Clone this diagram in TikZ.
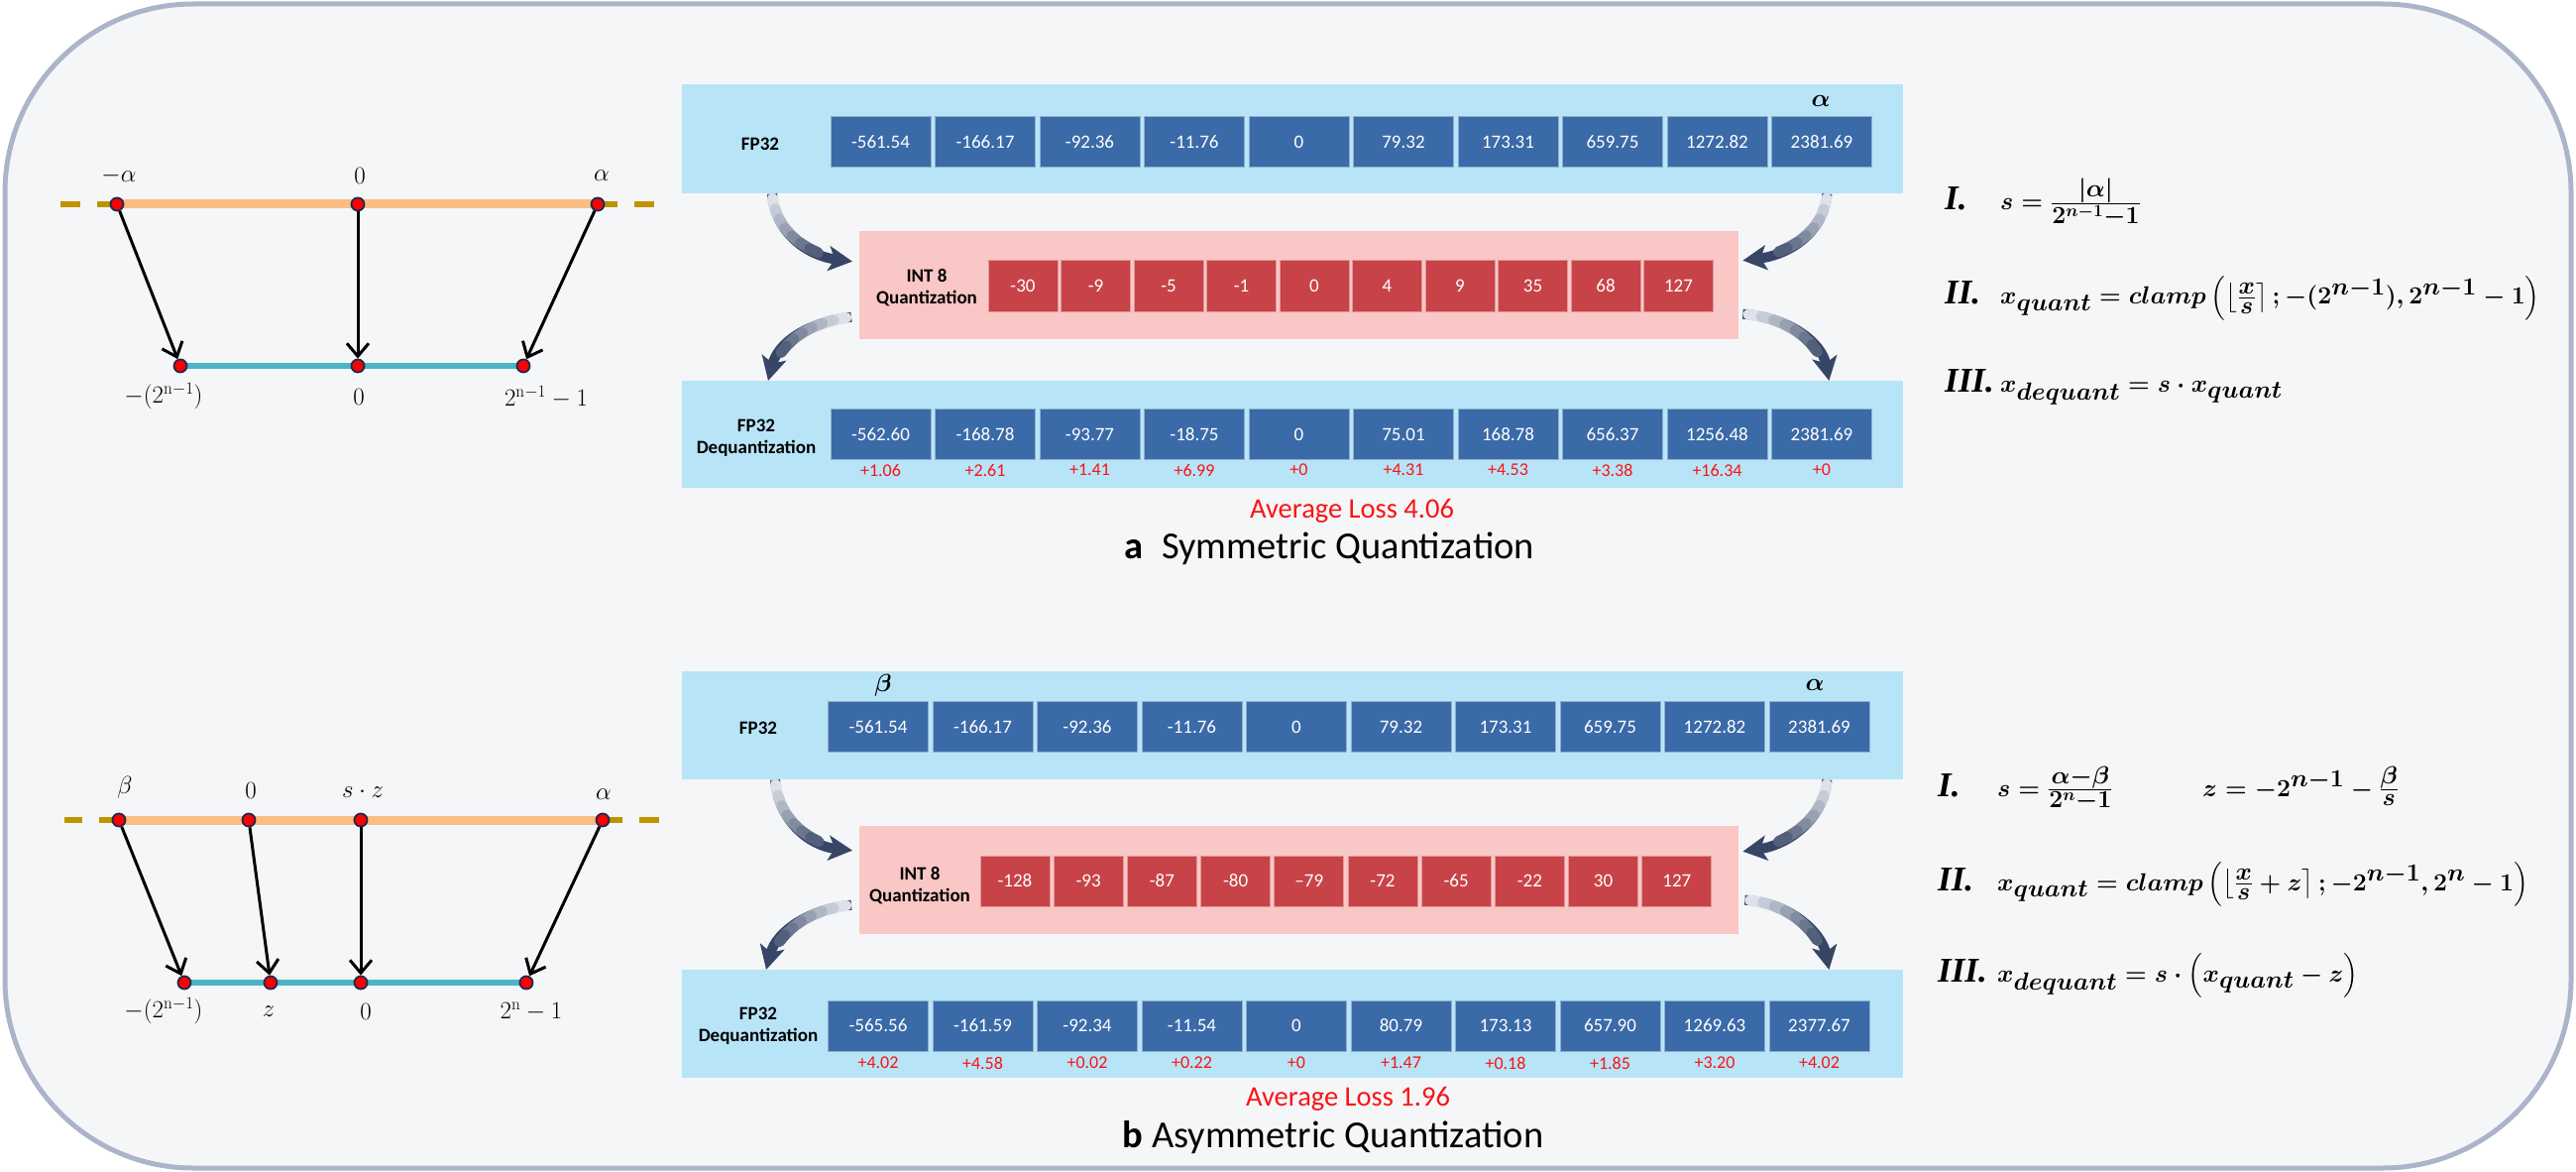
\documentclass[tikz,border=0pt]{standalone}
\usepackage[no-math]{fontspec}
\usepackage{amsmath}
\usepackage{bm}
\setmainfont{Carlito}
\newfontfamily\romfont{Liberation Serif}
\usetikzlibrary{arrows.meta, positioning, calc}
\definecolor{frameline}{RGB}{172,180,202}
\definecolor{framefill}{RGB}{245,246,248}
\definecolor{bandblue}{RGB}{184,228,247}
\definecolor{bandpink}{RGB}{249,199,197}
\definecolor{cellblue}{RGB}{58,106,168}
\definecolor{cellred}{RGB}{199,67,72}
\definecolor{lossred}{RGB}{250,20,20}
\definecolor{flownavy}{RGB}{55,70,102}
\definecolor{flowlight}{RGB}{232,235,241}
\definecolor{rangeorange}{RGB}{250,190,130}
\definecolor{rangeteal}{RGB}{76,180,196}
\definecolor{dashgold}{RGB}{190,148,0}
\definecolor{dotnavy}{RGB}{30,42,80}
\tikzset{
  band/.style={rectangle, inner sep=0pt, draw=none, anchor=north west},
  fpcell/.style={rectangle, fill=cellblue, draw=cellblue!55!white, line width=1pt,
    minimum width=101pt, minimum height=51pt, inner sep=0pt, text=white,
    font=\fontsize{19}{21}\selectfont},
  intcell/.style={rectangle, fill=cellred, draw=cellred!55!white, line width=1pt,
    minimum width=70pt, minimum height=51pt, inner sep=0pt, text=white,
    font=\fontsize{19}{21}\selectfont},
  rowlabel/.style={align=center, inner sep=0pt, font=\bfseries\fontsize{19}{22}\selectfont},
  lossnum/.style={text=lossred, inner sep=0pt, font=\fontsize{18}{20}\selectfont},
  avgloss/.style={text=lossred, inner sep=0pt, font=\fontsize{28.5}{31}\selectfont},
  caption/.style={inner sep=0pt, font=\fontsize{38.5}{42}\selectfont},
  bandsym/.style={inner sep=0pt, font=\fontsize{30}{32}\selectfont\boldmath},
  flow/.style={line width=10pt, color=flownavy, -{Stealth[length=24pt, width=25pt, inset=6pt]}},
  flowseg/.style={line width=11pt, line cap=round},
  valdot/.style={circle, fill=red, draw=dotnavy, line width=1.8pt, minimum size=13pt, inner sep=0pt},
  maparrow/.style={line width=3pt, -{Straight Barb[length=13pt, width=22pt]}},
  goldext/.style={line width=6pt, dashgold, dash pattern=on 20pt off 17pt},
  axislabel/.style={inner sep=0pt, font=\fontsize{27}{30}\selectfont},
  numeral/.style={anchor=base west, inner sep=0pt, font=\romfont\bfseries\itshape\fontsize{35}{40}\selectfont},
  formula/.style={anchor=base west, inner sep=0pt, font=\fontsize{35}{40}\selectfont\boldmath}
}
% curved flow arrow, fading in from its tail
\newcommand\flowarrow[5]{%
  \draw[flow] (#2) .. controls (#3) and (#4) .. (#5)
    coordinate[pos=0.04] (#1-0) coordinate[pos=0.14] (#1-1) coordinate[pos=0.24] (#1-2)
    coordinate[pos=0.34] (#1-3) coordinate[pos=0.44] (#1-4) coordinate[pos=0.54] (#1-5)
    coordinate[pos=0.64] (#1-6) coordinate[pos=0.72] (#1-7);
  \foreach \k [count=\n, evaluate=\k as \fpct using int(6+\k*13)] in {0,...,6}
    \draw[flowseg, color=flownavy!\fpct!flowlight] (#1-\k) -- (#1-\n);
}

\begin{document}
\begin{tikzpicture}[x=1pt, y=-1pt]
  \useasboundingbox (0,0) rectangle (2599,1182);
  \draw[frameline, fill=framefill, line width=5pt, rounded corners=190pt] (5,4) rectangle (2594,1178);

  % a: symmetric range mapping
  \coordinate (sa1) at (118,206);
  \coordinate (sa2) at (361,206);
  \coordinate (sa3) at (603,206);
  \coordinate (sq1) at (182,369);
  \coordinate (sq2) at (361,369);
  \coordinate (sq3) at (528,369);
  \coordinate (sdl) at (61,206);
  \coordinate (sdr) at (660,206);
  \draw[goldext] (sa1) -- (sdl);
  \draw[goldext] (sa3) -- (sdr);
  \draw[line width=9pt, rangeorange] (sa1) -- (sa3);
  \draw[line width=6pt, rangeteal] (sq1) -- (sq3);
  \foreach \p in {sa1,sa2,sa3,sq1,sq2,sq3}
    \node[valdot] (d\p) at (\p) {};
  \foreach \i in {1,2,3}
    \draw[maparrow] (dsa\i) -- (dsq\i);
  \node[axislabel] (lsa1) at (120,177) {$-\alpha$};
  \node[axislabel] (lsa2) at (363,177) {$0$};
  \node[axislabel] (lsa3) at (607,177) {$\alpha$};
  \node[axislabel] (lsq1) at (165,400) {$-(2^{\mathrm{n}-1})$};
  \node[axislabel] (lsq2) at (362,400) {$0$};
  \node[axislabel] (lsq3) at (551,400) {$2^{\mathrm{n}-1}-1$};

  % a: symmetric quantization rows
  \node[band, fill=bandblue, minimum width=1232pt, minimum height=110pt] (afp) at (688,85) {};
  \node[rowlabel] (afplab) at (767,145) {FP32};
  \foreach \v [count=\i] in {-561.54,-166.17,-92.36,-11.76,0,79.32,173.31,659.75,1272.82,2381.69}
    \node[fpcell] (afp\i) at ({888.5+(\i-1)*105.5},143.5) {\v};
  \node[bandsym] (aalpha) at (1837,102) {$\alpha$};

  \node[band, fill=bandpink, minimum width=887pt, minimum height=109pt] (aint) at (867,233) {};
  \node[rowlabel] (aintlab) at (935,290) {INT 8\\Quantization};
  \foreach \v [count=\i] in {-30,-9,-5,-1,0,4,9,35,68,127}
    \node[intcell] (aint\i) at ({1032+(\i-1)*73.5},288.5) {\v};

  \node[band, fill=bandblue, minimum width=1232pt, minimum height=108pt] (adq) at (688,384) {};
  \node[rowlabel] (adqlab) at (763,442) {FP32\\Dequantization};
  \foreach \v/\l [count=\i] in {-562.60/1.06,-168.78/2.61,-93.77/1.41,-18.75/6.99,0/0,75.01/4.31,168.78/4.53,656.37/3.38,1256.48/16.34,2381.69/0}
  {
    \node[fpcell] (adq\i) at ({888.5+(\i-1)*105.5},438) {\v};
    \node[lossnum] (aloss\i) at ({888.5+(\i-1)*105.5},474) {+\l};
  }
  \node[avgloss] (aavg) at (1364,515) {Average Loss 4.06};
  \node[caption] (atitle) at (1341,553) {\textbf{a}\enspace Symmetric Quantization};

  \flowarrow{af1}{[xshift=91pt]afp.south west}{782,235}{815,258}{[shift={(-7pt,24pt)}]aint.west}
  \flowarrow{af2}{[xshift=-77pt]afp.south east}{1840,235}{1805,257}{[shift={(4pt,25pt)}]aint.east}
  \flowarrow{af3}{[shift={(-8pt,-32pt)}]aint.west}{815,325}{785,345}{[xshift=87pt]adq.north west}
  \flowarrow{af4}{[shift={(4pt,-29pt)}]aint.east}{1805,320}{1838,345}{[xshift=-75pt]adq.north east}

  % a: formulas
  \node[numeral] (na1) at (1962,212) {I.};
  \node[formula] (fa1) at (2018,212) {$s = \frac{|\alpha|}{2^{n-1}-1}$};
  \node[numeral] (na2) at (1962,307) {II.};
  \node[formula] (fa2) at (2018,307) {$x_{quant} = clamp\left(\left\lfloor\frac{x}{s}\right\rceil;-(2^{n-1}),2^{n-1}-1\right)$};
  \node[numeral] (na3) at (1962,395) {III.};
  \node[formula] (fa3) at (2018,395) {$x_{dequant} = s\cdot x_{quant}$};

  % b: asymmetric range mapping
  \coordinate (ta1) at (120,827);
  \coordinate (ta2) at (251,827);
  \coordinate (ta3) at (364,827);
  \coordinate (ta4) at (608,827);
  \coordinate (tq1) at (186,991);
  \coordinate (tq2) at (273,991);
  \coordinate (tq3) at (364,991);
  \coordinate (tq4) at (531,991);
  \coordinate (tdl) at (65,827);
  \coordinate (tdr) at (665,827);
  \draw[goldext] (ta1) -- (tdl);
  \draw[goldext] (ta4) -- (tdr);
  \draw[line width=9pt, rangeorange] (ta1) -- (ta4);
  \draw[line width=6pt, rangeteal] (tq1) -- (tq4);
  \foreach \p in {ta1,ta2,ta3,ta4,tq1,tq2,tq3,tq4}
    \node[valdot] (d\p) at (\p) {};
  \foreach \i in {1,...,4}
    \draw[maparrow] (dta\i) -- (dtq\i);
  \node[axislabel] (lta1) at (126,794) {$\beta$};
  \node[axislabel] (lta2) at (253,797) {$0$};
  \node[axislabel] (lta3) at (366,799) {$s\cdot z$};
  \node[axislabel] (lta4) at (609,801) {$\alpha$};
  \node[axislabel] (ltq1) at (165,1020) {$-(2^{\mathrm{n}-1})$};
  \node[axislabel] (ltq2) at (271,1020) {$z$};
  \node[axislabel] (ltq3) at (369,1020) {$0$};
  \node[axislabel] (ltq4) at (536,1020) {$2^{\mathrm{n}}-1$};

  % b: asymmetric quantization rows
  \node[band, fill=bandblue, minimum width=1232pt, minimum height=109pt] (bfp) at (688,677) {};
  \node[rowlabel] (bfplab) at (765,734) {FP32};
  \foreach \v [count=\i] in {-561.54,-166.17,-92.36,-11.76,0,79.32,173.31,659.75,1272.82,2381.69}
    \node[fpcell] (bfp\i) at ({886+(\i-1)*105.5},733) {\v};
  \node[bandsym] (bbeta) at (891,691) {$\beta$};
  \node[bandsym] (balpha) at (1831,691) {$\alpha$};

  \node[band, fill=bandpink, minimum width=887pt, minimum height=109pt] (bint) at (867,833) {};
  \node[rowlabel] (bintlab) at (928,893) {INT 8\\Quantization};
  \foreach \v [count=\i] in {-128,-93,-87,-80,–79,-72,-65,-22,30,127}
    \node[intcell] (bint\i) at ({1024+(\i-1)*74.2},888.5) {\v};

  \node[band, fill=bandblue, minimum width=1232pt, minimum height=109pt] (bdq) at (688,978) {};
  \node[rowlabel] (bdqlab) at (765,1035) {FP32\\Dequantization};
  \foreach \v/\l [count=\i] in {-565.56/4.02,-161.59/4.58,-92.34/0.02,-11.54/0.22,0/0,80.79/1.47,173.13/0.18,657.90/1.85,1269.63/3.20,2377.67/4.02}
  {
    \node[fpcell] (bdq\i) at ({886+(\i-1)*105.5},1034.5) {\v};
    \node[lossnum] (bloss\i) at ({886+(\i-1)*105.5},1072) {+\l};
  }
  \node[avgloss] (bavg) at (1360,1108) {Average Loss 1.96};
  \node[caption] (btitle) at (1345,1147) {\textbf{b} Asymmetric Quantization};

  \flowarrow{bf1}{[xshift=94pt]bfp.south west}{785,826}{815,853}{[shift={(-7pt,30pt)}]bint.west}
  \flowarrow{bf2}{[xshift=-77pt]bfp.south east}{1840,826}{1805,852}{[shift={(4pt,29pt)}]bint.east}
  \flowarrow{bf3}{[shift={(-8pt,-25pt)}]bint.west}{815,917}{783,940}{[xshift=85pt]bdq.north west}
  \flowarrow{bf4}{[shift={(6pt,-20pt)}]bint.east}{1805,910}{1838,940}{[xshift=-75pt]bdq.north east}

  % b: formulas
  \node[numeral] (nb1) at (1955,803) {I.};
  \node[formula] (fb1) at (2015,803) {$s = \frac{\alpha-\beta}{2^{n}-1}$};
  \node[formula] (fb1z) at (2222,803) {$z = -2^{n-1}-\frac{\beta}{s}$};
  \node[numeral] (nb2) at (1955,898) {II.};
  \node[formula] (fb2) at (2015,898) {$x_{quant} = clamp\left(\left\lfloor\frac{x}{s}+z\right\rceil;-2^{n-1},2^{n}-1\right)$};
  \node[numeral] (nb3) at (1955,990) {III.};
  \node[formula] (fb3) at (2015,990) {$x_{dequant} = s\cdot\left(x_{quant}-z\right)$};
\end{tikzpicture}
\end{document}
